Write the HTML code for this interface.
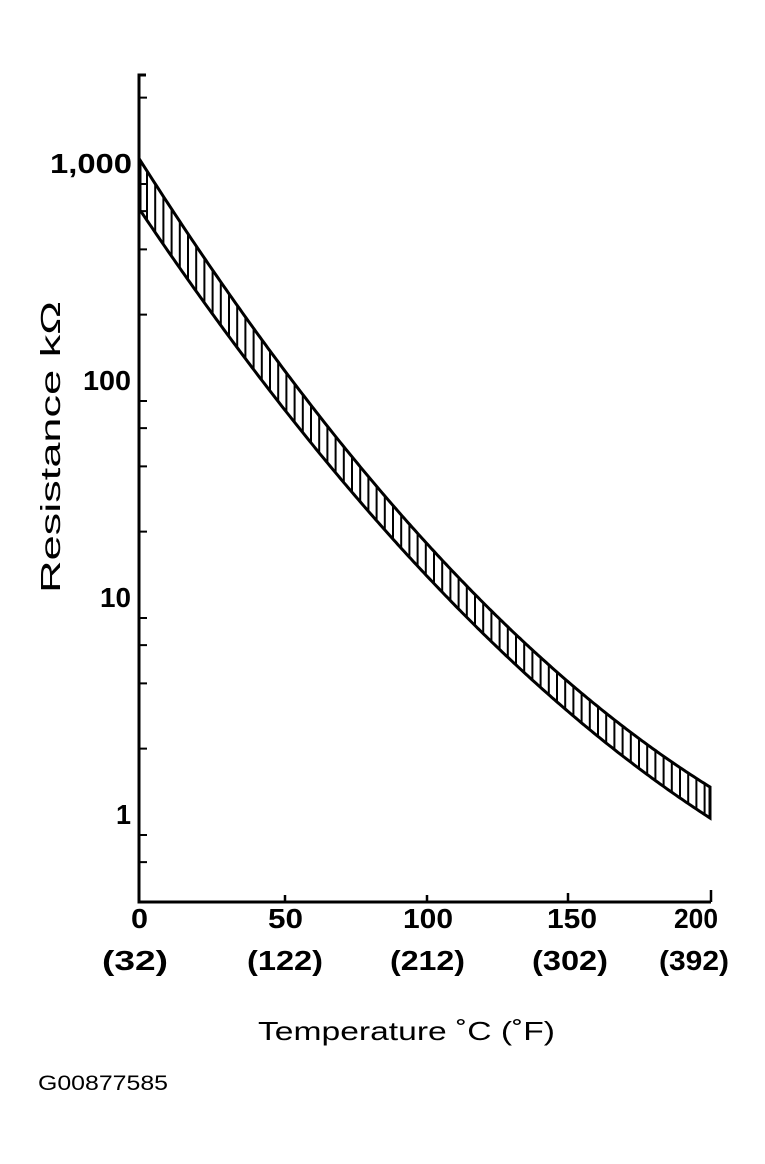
<!DOCTYPE html>
<html><head><meta charset="utf-8"><style>
body{margin:0;background:#fff;}
svg{display:block;font-family:"Liberation Sans",Arial,sans-serif;}
</style></head><body>
<svg id="s" width="765" height="1164" viewBox="0 0 765 1164" xmlns="http://www.w3.org/2000/svg">
<rect width="765" height="1164" fill="#fff"/>
<g stroke="#000" fill="none">
<path d="M146 75 L139 75 L139 902 L711 902" stroke-width="3"/>
<path d="M711 902 L711 890 M568 902 L568 893 M427 902 L427 895 M285 902 L285 895" stroke-width="2.5"/>
<g id="ticks" stroke-width="2"></g>
<path id="band" stroke-width="3"/>
<g id="hatch" stroke-width="2"></g>
</g>
<g font-weight="bold" font-size="28" fill="#000">
<text x="50" y="173" textLength="82" lengthAdjust="spacingAndGlyphs">1,000</text>
<text x="83" y="390" textLength="48" lengthAdjust="spacingAndGlyphs">100</text>
<text x="100" y="607" textLength="31" lengthAdjust="spacingAndGlyphs">10</text>
<text x="116" y="824" textLength="15" lengthAdjust="spacingAndGlyphs">1</text>
</g>
<text transform="translate(60,447) rotate(-90)" font-size="28" text-anchor="middle" textLength="292" lengthAdjust="spacingAndGlyphs">Resistance kΩ</text>
<g font-weight="bold" font-size="28">
<text x="131" y="928" textLength="17" lengthAdjust="spacingAndGlyphs">0</text>
<text x="268" y="928" textLength="35" lengthAdjust="spacingAndGlyphs">50</text>
<text x="403" y="928" textLength="50" lengthAdjust="spacingAndGlyphs">100</text>
<text x="547" y="928" textLength="50" lengthAdjust="spacingAndGlyphs">150</text>
<text x="674" y="928" textLength="44" lengthAdjust="spacingAndGlyphs">200</text>
<text x="102" y="970" textLength="66" lengthAdjust="spacingAndGlyphs">(32)</text>
<text x="247" y="970" textLength="76" lengthAdjust="spacingAndGlyphs">(122)</text>
<text x="390" y="970" textLength="75" lengthAdjust="spacingAndGlyphs">(212)</text>
<text x="532" y="970" textLength="76" lengthAdjust="spacingAndGlyphs">(302)</text>
<text x="659" y="970" textLength="70" lengthAdjust="spacingAndGlyphs">(392)</text>
</g>
<text x="258" y="1040" font-size="26" textLength="297" lengthAdjust="spacingAndGlyphs">Temperature ˚C  (˚F)</text>
<text x="38" y="1090" font-size="21" textLength="130" lengthAdjust="spacingAndGlyphs">G00877585</text>
</svg>
<script>
var NS="http://www.w3.org/2000/svg";
var t=document.getElementById("ticks"),d="";
[163,380,597,814].forEach(function(b){[0.8,0.6,0.4,0.2].forEach(function(m){var y=b-217*Math.log10(m);if(y<900)d+="M139 "+y+" L147 "+y+" ";});[2].forEach(function(m){var y=b-217*Math.log10(m);if(y>80)d+="M139 "+y+" L147 "+y+" ";});});
var p=document.createElementNS(NS,"path");p.setAttribute("d",d);t.appendChild(p);
function up(x){var u=(x-140)/570;return 160+627*u-272*u*(u-1);}
function lo(x){var u=(x-140)/570;return 210+608*u-240*u*(u-1);}
var a="M140 "+up(140);
for(var x=140;x<=710;x+=2)a+=" L"+x+" "+up(x).toFixed(1);
a+=" L710 "+lo(710);
for(var x=710;x>=140;x-=2)a+=" L"+x+" "+lo(x).toFixed(1);
a+=" Z";document.getElementById("band").setAttribute("d",a);
var hd="";for(var x=147;x<708;x+=8.2){hd+="M"+x.toFixed(1)+" "+up(x).toFixed(1)+" L"+x.toFixed(1)+" "+lo(x).toFixed(1)+" ";}
var hp=document.createElementNS(NS,"path");hp.setAttribute("d",hd);document.getElementById("hatch").appendChild(hp);
</script>
</body></html>
